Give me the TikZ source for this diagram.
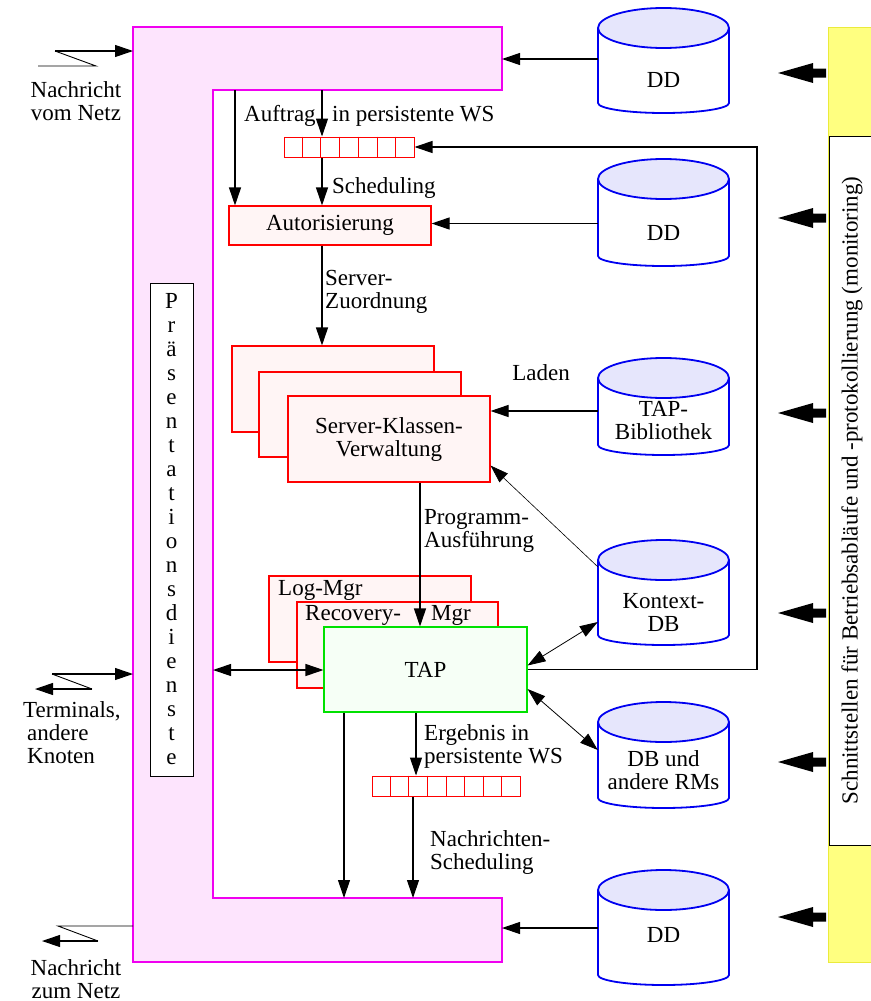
\documentclass[tikz,border=0pt]{standalone}
\usepackage{fontspec}
\setmainfont{Liberation Serif}
\usetikzlibrary{arrows.meta,calc}

\definecolor{pinkfill}{RGB}{253,228,253}
\definecolor{pinkline}{RGB}{240,0,240}
\definecolor{boxfill}{RGB}{255,245,245}
\definecolor{tapfill}{RGB}{246,255,246}
\definecolor{tapline}{RGB}{0,225,0}
\definecolor{cyltop}{RGB}{230,230,252}
\definecolor{cylline}{RGB}{0,0,240}
\definecolor{yellowfill}{RGB}{255,255,128}
\definecolor{yellowline}{RGB}{235,235,60}

% database cylinder: name, centre y of top ellipse, y where the sides end,
% y of the label centre, label
\newcommand\DbCylinder[5]{%
  \fill[white] (598,#2) -- (598,#3)
    arc[start angle=180,end angle=360,x radius=65.5pt,y radius=10pt]
    -- (729,#2) -- cycle;
  \draw[cylstroke] (598,#2) -- (598,#3)
    arc[start angle=180,end angle=360,x radius=65.5pt,y radius=10pt]
    -- (729,#2);
  \draw[cylstroke,fill=cyltop] (663.5,#2) ellipse[x radius=65.5pt,y radius=20pt];
  \node[cylbody,minimum height={#3-#2}] (#1) at (663.5,{(#2+#3)/2}) {};
  \node[lbl,align=center] (#1-text) at (663.5,#4) {#5};
}

\begin{document}
\begin{tikzpicture}[x=1pt,y=-1pt,
  lbl/.style={inner sep=0pt,font=\fontsize{23}{23}\selectfont},
  conn/.style={line width=1.1pt},
  tipA/.tip={Triangle[length=18pt,width=12pt]},
  arr/.style={conn,-tipA},
  darr/.style={conn,tipA-tipA},
  thinarr/.style={line width=0.6pt,-tipA},
  thindarr/.style={line width=0.8pt,tipA-tipA},
  redbox/.style={draw=red,fill=boxfill,line width=1.1pt,inner sep=0pt,
    minimum width=202pt,minimum height=86pt},
  queue/.style={draw=red,line width=1pt,minimum height=20pt,inner sep=0pt},
  qline/.style={draw=red,line width=1pt},
  cylstroke/.style={draw=cylline,line width=1.8pt},
  cylbody/.style={inner sep=0pt,minimum width=131pt},
  fatarrow/.style={fill=black}]

\useasboundingbox (0,0) rectangle (870,1001);

% presentation services frame
\path[fill=pinkfill,draw=pinkline,line width=1.2pt]
  (133,27) -- (502,27) -- (502,90) -- (213,90) -- (213,898)
  -- (502,898) -- (502,962) -- (133,962) -- cycle;
\coordinate (armTop) at (213,90);
\coordinate (armTopR) at (502,59);
\coordinate (armBot) at (213,898);
\coordinate (armBotR) at (502,928);
\coordinate (frameL) at (133,0);
\coordinate (frameIn) at (213,670);

\node[draw,fill=white,line width=1pt,minimum width=43pt,minimum height=493pt,
  inner sep=0pt,align=center,font=\fontsize{23}{24}\selectfont]
  (praes) at (171.5,529.5)
  {P\\r\\ä\\s\\e\\n\\t\\a\\t\\i\\o\\n\\s\\d\\i\\e\\n\\s\\t\\e};

% monitoring interface
\path[fill=yellowfill,draw=yellowline,line width=1pt] (828,27) rectangle (874,962);
\node[draw,fill=white,line width=1pt,rotate=90,minimum width=709pt,
  minimum height=46pt,inner sep=0pt,font=\fontsize{23}{23}\selectfont]
  (iface) at (852,490.5)
  {Schnittstellen für Betriebsabläufe und -protokollierung (monitoring)};
\foreach \yy in {73,218,413,613,762,917}
  \fill[fatarrow] (778,\yy) -- (813,\yy-10) -- (813,\yy-4.5) -- (826,\yy-4.5)
    -- (826,\yy+4.5) -- (813,\yy+4.5) -- (813,\yy+10) -- cycle;

% databases
\DbCylinder{dd1}{28}{103}{80}{DD}
\DbCylinder{dd2}{179}{256}{233}{DD}
\DbCylinder{tapb}{378}{445}{421}{TAP-\\Bibliothek}
\DbCylinder{kdb}{560}{635}{612}{Kontext-\\DB}
\DbCylinder{db}{722}{798}{770}{DB und\\andere RMs}
\DbCylinder{dd3}{890}{975}{935}{DD}

% request queue and authorisation
\node[queue,minimum width=130pt] (q1) at (349,147) {};
\foreach \i in {1,...,6}
  \draw[qline] ($(q1.north west)!\i/7!(q1.north east)$)
    -- ($(q1.south west)!\i/7!(q1.south east)$);
\node[draw=red,fill=boxfill,line width=1.1pt,minimum width=202pt,
  minimum height=39pt,inner sep=0pt,font=\fontsize{23}{23}\selectfont]
  (auth) at (330,225.5) {Autorisierung};

% server class management
\node[redbox] (srvA) at (333,389) {};
\node[redbox,minimum height=85pt] (srvB) at (360,414.5) {};
\node[redbox,align=center,font=\fontsize{23}{23}\selectfont] (srvC) at (389,439)
  {Server-Klassen-\\Verwaltung};

% log and recovery managers, TAP
\node[redbox] (logm) at (370,619) {};
\node[lbl,anchor=west] (logm-text) at (278,590) {Log-Mgr};
\node[redbox,minimum width=201pt] (recm) at (397.5,645) {};
\node[lbl,anchor=west] (recm-text) at (305,615) {Recovery-};
\node[lbl,anchor=west] (recm-text2) at (431,615) {Mgr};
\node[draw=tapline,fill=tapfill,line width=1.1pt,minimum width=203pt,
  minimum height=85pt,inner sep=0pt,font=\fontsize{23}{23}\selectfont]
  (tap) at (425.5,669.5) {TAP};

% result queue
\node[queue,minimum width=148pt] (q2) at (446,786) {};
\foreach \i in {1,...,7}
  \draw[qline] ($(q2.north west)!\i/8!(q2.north east)$)
    -- ($(q2.south west)!\i/8!(q2.south east)$);

% labels
\node[lbl,align=center] (netin) at (76,101) {Nachricht\\vom Netz};
\node[lbl,align=left,anchor=west] (term) at (23,733) {Terminals,\\\hspace*{4pt}andere\\\hspace*{4pt}Knoten};
\node[lbl,align=center] (netout) at (76,979) {Nachricht\\zum Netz};
\node[lbl,anchor=west] (l-auftrag) at (244,116) {Auftrag};
\node[lbl,anchor=west] (l-pws) at (332,116) {in persistente WS};
\node[lbl,anchor=west] (l-sched) at (332,188) {Scheduling};
\node[lbl,anchor=west,align=left] (l-zuord) at (325,292) {Server-\\Zuordnung};
\node[lbl] (l-laden) at (541,373) {Laden};
\node[lbl,anchor=west,align=left] (l-prog) at (424,531) {Programm-\\Ausführung};
\node[lbl,anchor=west,align=left] (l-erg) at (424,746) {Ergebnis in\\persistente WS};
\node[lbl,anchor=west,align=left] (l-nsched) at (430,852) {Nachrichten-\\Scheduling};

% incoming message
\coordinate (ni1) at (38,66);
\coordinate (ni2) at (96,66);
\coordinate (ni3) at (55,51);
\draw[line width=0.9pt] (ni1) -- (ni2) -- (ni3);
\draw[arr] (ni3) -- (ni3 -| frameL);

% terminals
\coordinate (te1) at (52,674);
\coordinate (te2) at (92,689);
\coordinate (te3) at (35,689);
\draw[arr] (te1) -- (te1 -| frameL);
\draw[line width=0.9pt] (te1) -- (te2);
\draw[arr] (te2) -- (te3);

% outgoing message
\coordinate (no1) at (58,926);
\coordinate (no2) at (98,941);
\coordinate (no3) at (42,941);
\draw[line width=0.9pt] (no1 -| frameL) -- (no1) -- (no2);
\draw[arr] (no2) -- (no3);

% request path
\coordinate (colA) at (235,0);
\coordinate (colB) at (322,0);
\draw[arr] (armTop -| colA) -- (auth.north -| colA);
\draw[arr] (armTop -| colB) -- (q1.north -| colB);
\draw[arr] (q1.south -| colB) -- (auth.north -| colB);
\draw[arr] (auth.south -| colB) -- (srvA.north -| colB);

% execution path
\coordinate (colC) at (420,0);
\coordinate (colD) at (416,0);
\coordinate (colE) at (413,0);
\coordinate (colF) at (344,0);
\draw[arr] (srvC.south -| colC) -- (tap.north -| colC);
\draw[arr] (tap.south -| colD) -- (q2.north -| colD);
\draw[arr] (q2.south -| colE) -- (armBot -| colE);
\draw[arr] (tap.south -| colF) -- (armBot -| colF);
\draw[darr] (frameIn) -- (frameIn -| tap.west);

% feedback loop into the request queue
\coordinate (loopX) at (757,0);
\draw[arr] (tap.east) -- (tap.east -| loopX) -- (loopX |- q1.east) -- (q1.east);

% database connections
\draw[arr] (dd1.west |- armTopR) -- (armTopR);
\draw[arr] ([yshift=2pt]dd2.west |- auth.east) -- ([yshift=2pt]auth.east);
\draw[arr] ([yshift=28pt]srvC.east -| tapb.west) -- ([yshift=28pt]srvC.east);
\draw[thinarr] ([yshift=-7pt]kdb.north west) -- ([yshift=17pt]srvC.south east);
\draw[thindarr] ([yshift=4pt]tap.east) -- ([yshift=-24.5pt]kdb.west);
\draw[thindarr] ([yshift=-19.5pt]tap.east) -- ([yshift=10pt]db.west);
\draw[arr] (dd3.west |- armBotR) -- (armBotR);

\end{tikzpicture}
\end{document}
